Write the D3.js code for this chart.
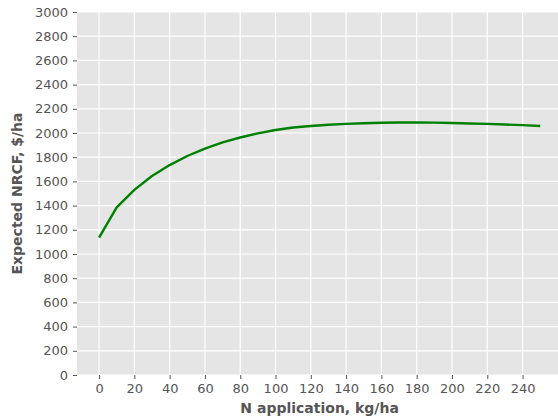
<!DOCTYPE html>
<html>
<head>
<meta charset="utf-8">
<script src="https://cdn.jsdelivr.net/npm/d3@7"></script>
<style>
  html, body { margin: 0; padding: 0; background: #fff; }
  svg { display: block; }
  .tick text { font-family: "DejaVu Sans", sans-serif; font-size: 13px; fill: #555; }
  .axis-label { font-family: "DejaVu Sans", sans-serif; font-size: 14px; font-weight: bold; fill: #555; }
</style>
</head>
<body>
<svg id="chart" width="558" height="420"></svg>
<script>
// N application rates (kg/ha) and expected net return over fertilizer cost ($/ha)
const nRates = [0, 10, 20, 30, 40, 50, 60, 70, 80, 90, 100, 110, 120, 130, 140, 150,
                160, 170, 180, 190, 200, 210, 220, 230, 240, 250];
const nrcf = [1135, 1385, 1530, 1645, 1735, 1810, 1870, 1922, 1963, 1997, 2025, 2045,
              2058, 2068, 2075, 2081, 2085, 2087, 2087, 2086, 2083, 2079, 2075, 2070, 2065, 2058];
const xTicks = [0, 20, 40, 60, 80, 100, 120, 140, 160, 180, 200, 220, 240];
const yTicks = [0, 200, 400, 600, 800, 1000, 1200, 1400, 1600, 1800, 2000, 2200, 2400, 2600, 2800, 3000];

const svg = d3.select("#chart");
const plot = { left: 77, top: 12, right: 558, bottom: 375 };

const x = d3.scaleLinear().domain([-12.5, 260]).range([plot.left, plot.left + (260 + 12.5) * 1.7646]);
const y = d3.scaleLinear().domain([0, 3000]).range([plot.bottom, plot.top]);

// panel background
svg.append("rect")
  .attr("x", plot.left).attr("y", plot.top)
  .attr("width", plot.right - plot.left).attr("height", plot.bottom - plot.top)
  .attr("fill", "#E5E5E5");

// grid
const grid = svg.append("g").attr("stroke", "#fff").attr("stroke-width", 1.2);
grid.selectAll("line.v").data(xTicks).join("line")
  .attr("x1", d => x(d)).attr("x2", d => x(d))
  .attr("y1", plot.top).attr("y2", plot.bottom);
grid.selectAll("line.h").data(yTicks).join("line")
  .attr("x1", plot.left).attr("x2", plot.right)
  .attr("y1", d => y(d)).attr("y2", d => y(d));

// axes
const xAxis = svg.append("g")
  .attr("transform", `translate(0,${plot.bottom})`)
  .call(d3.axisBottom(x).tickValues(xTicks).tickFormat(d3.format("d"))
    .tickSize(4).tickPadding(5).tickSizeOuter(0));
const yAxis = svg.append("g")
  .attr("transform", `translate(${plot.left},0)`)
  .call(d3.axisLeft(y).tickValues(yTicks).tickFormat(d3.format("d"))
    .tickSize(4).tickPadding(5).tickSizeOuter(0));
[xAxis, yAxis].forEach(a => {
  a.select(".domain").remove();
  a.selectAll(".tick line").attr("stroke", "#555");
});

// curve
svg.append("path")
  .datum(nRates.map((n, i) => [n, nrcf[i]]))
  .attr("fill", "none")
  .attr("stroke", "#008000")
  .attr("stroke-width", 2.4)
  .attr("stroke-linejoin", "round")
  .attr("d", d3.line().x(d => x(d[0])).y(d => y(d[1])));

// axis titles
svg.append("text").attr("class", "axis-label")
  .attr("x", x(125)).attr("y", 413)
  .attr("text-anchor", "middle")
  .text("N application, kg/ha");
svg.append("text").attr("class", "axis-label")
  .attr("transform", `translate(22,${(plot.top + plot.bottom) / 2}) rotate(-90)`)
  .attr("text-anchor", "middle")
  .text("Expected NRCF, $/ha");
</script>
</body>
</html>
